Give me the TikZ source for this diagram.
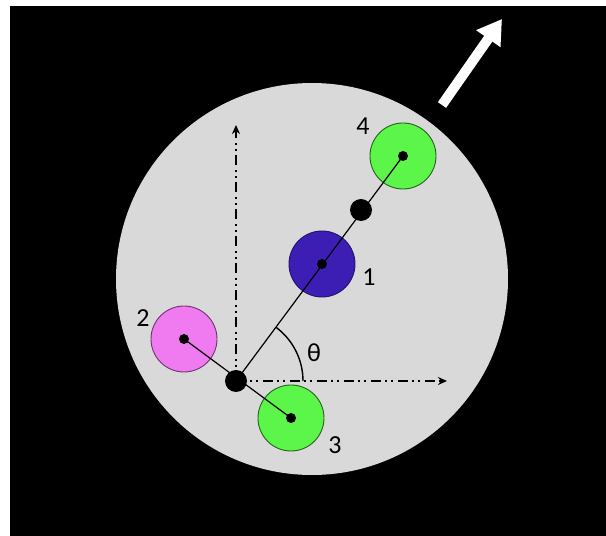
\documentclass[tikz,border=0pt]{standalone}
\usepackage{fontspec}
\setmainfont{Carlito}
\usetikzlibrary{arrows.meta,calc}
\definecolor{plate}{HTML}{D9D9D9}
\definecolor{gball}{HTML}{5CF54A}
\definecolor{mball}{HTML}{F07AF0}
\definecolor{bball}{HTML}{3C1EB4}
\tikzset{
  disk/.style={circle, inner sep=0pt, minimum size=66pt, line width=0.9pt},
  hub/.style={circle, fill=black, inner sep=0pt, minimum size=10pt},
  bigdot/.style={circle, fill=black, inner sep=0pt, minimum size=22pt},
  rod/.style={line width=1.2pt},
  axisline/.style={line width=1.8pt, dash pattern=on 10pt off 4pt on 2pt off 4pt on 2pt off 5pt, -{Stealth[length=9pt,width=8pt]}},
  lbl/.style={font=\fontsize{26}{30}\selectfont, inner sep=0pt}
}
\begin{document}
\begin{tikzpicture}[x=1pt,y=1pt]
\useasboundingbox (0,0) rectangle (606,536);
\fill[white] (0,0) rectangle (606,536);
\fill[black] (10,0) rectangle (606,530);
\fill[plate] (312,257) circle[radius=196];
% white arrow
\coordinate (atail) at (442,431);
\coordinate (ahead) at (502,517);
\draw[white, line width=10pt, -{Triangle[width=28pt,length=24pt]}] (atail) -- (ahead);
% axes
\coordinate (P) at (236,155);
\coordinate (ytop) at (236,411);
\coordinate (xend) at (447,155);
\draw[axisline] (P) -- (ytop);
\draw[axisline] (P) -- (xend);
% angle arc
\draw[line width=1.4pt] ($(P)+(67,0)$) arc (0:53.5:67);
% disks
\node[disk, fill=mball, draw=mball!45!black] (d2) at (184,197) {};
\node[disk, fill=gball, draw=gball!40!black] (d3) at (291,118) {};
\node[disk, fill=bball, draw=bball!60!black] (d1) at (322,272) {};
\node[disk, fill=gball, draw=gball!40!black] (d4) at (403,380) {};
% rods
\draw[rod] (P) -- (d4.center);
\draw[rod] (d2.center) -- (d3.center);
% dots
\node[hub] (c1) at (d1.center) {};
\node[hub] (c2) at (d2.center) {};
\node[hub] (c3) at (d3.center) {};
\node[hub] (c4) at (d4.center) {};
\node[bigdot] (pivot) at (P) {};
\node[bigdot] (mid) at (361,326) {};
% labels
\node[lbl] (l4) at (363,410) {4};
\node[lbl] (l1) at (369,259) {1};
\node[lbl] (l2) at (143,218) {2};
\node[lbl] (l3) at (335,91) {3};
\node[lbl] (th) at (314,183) {θ};
\end{tikzpicture}
\end{document}
